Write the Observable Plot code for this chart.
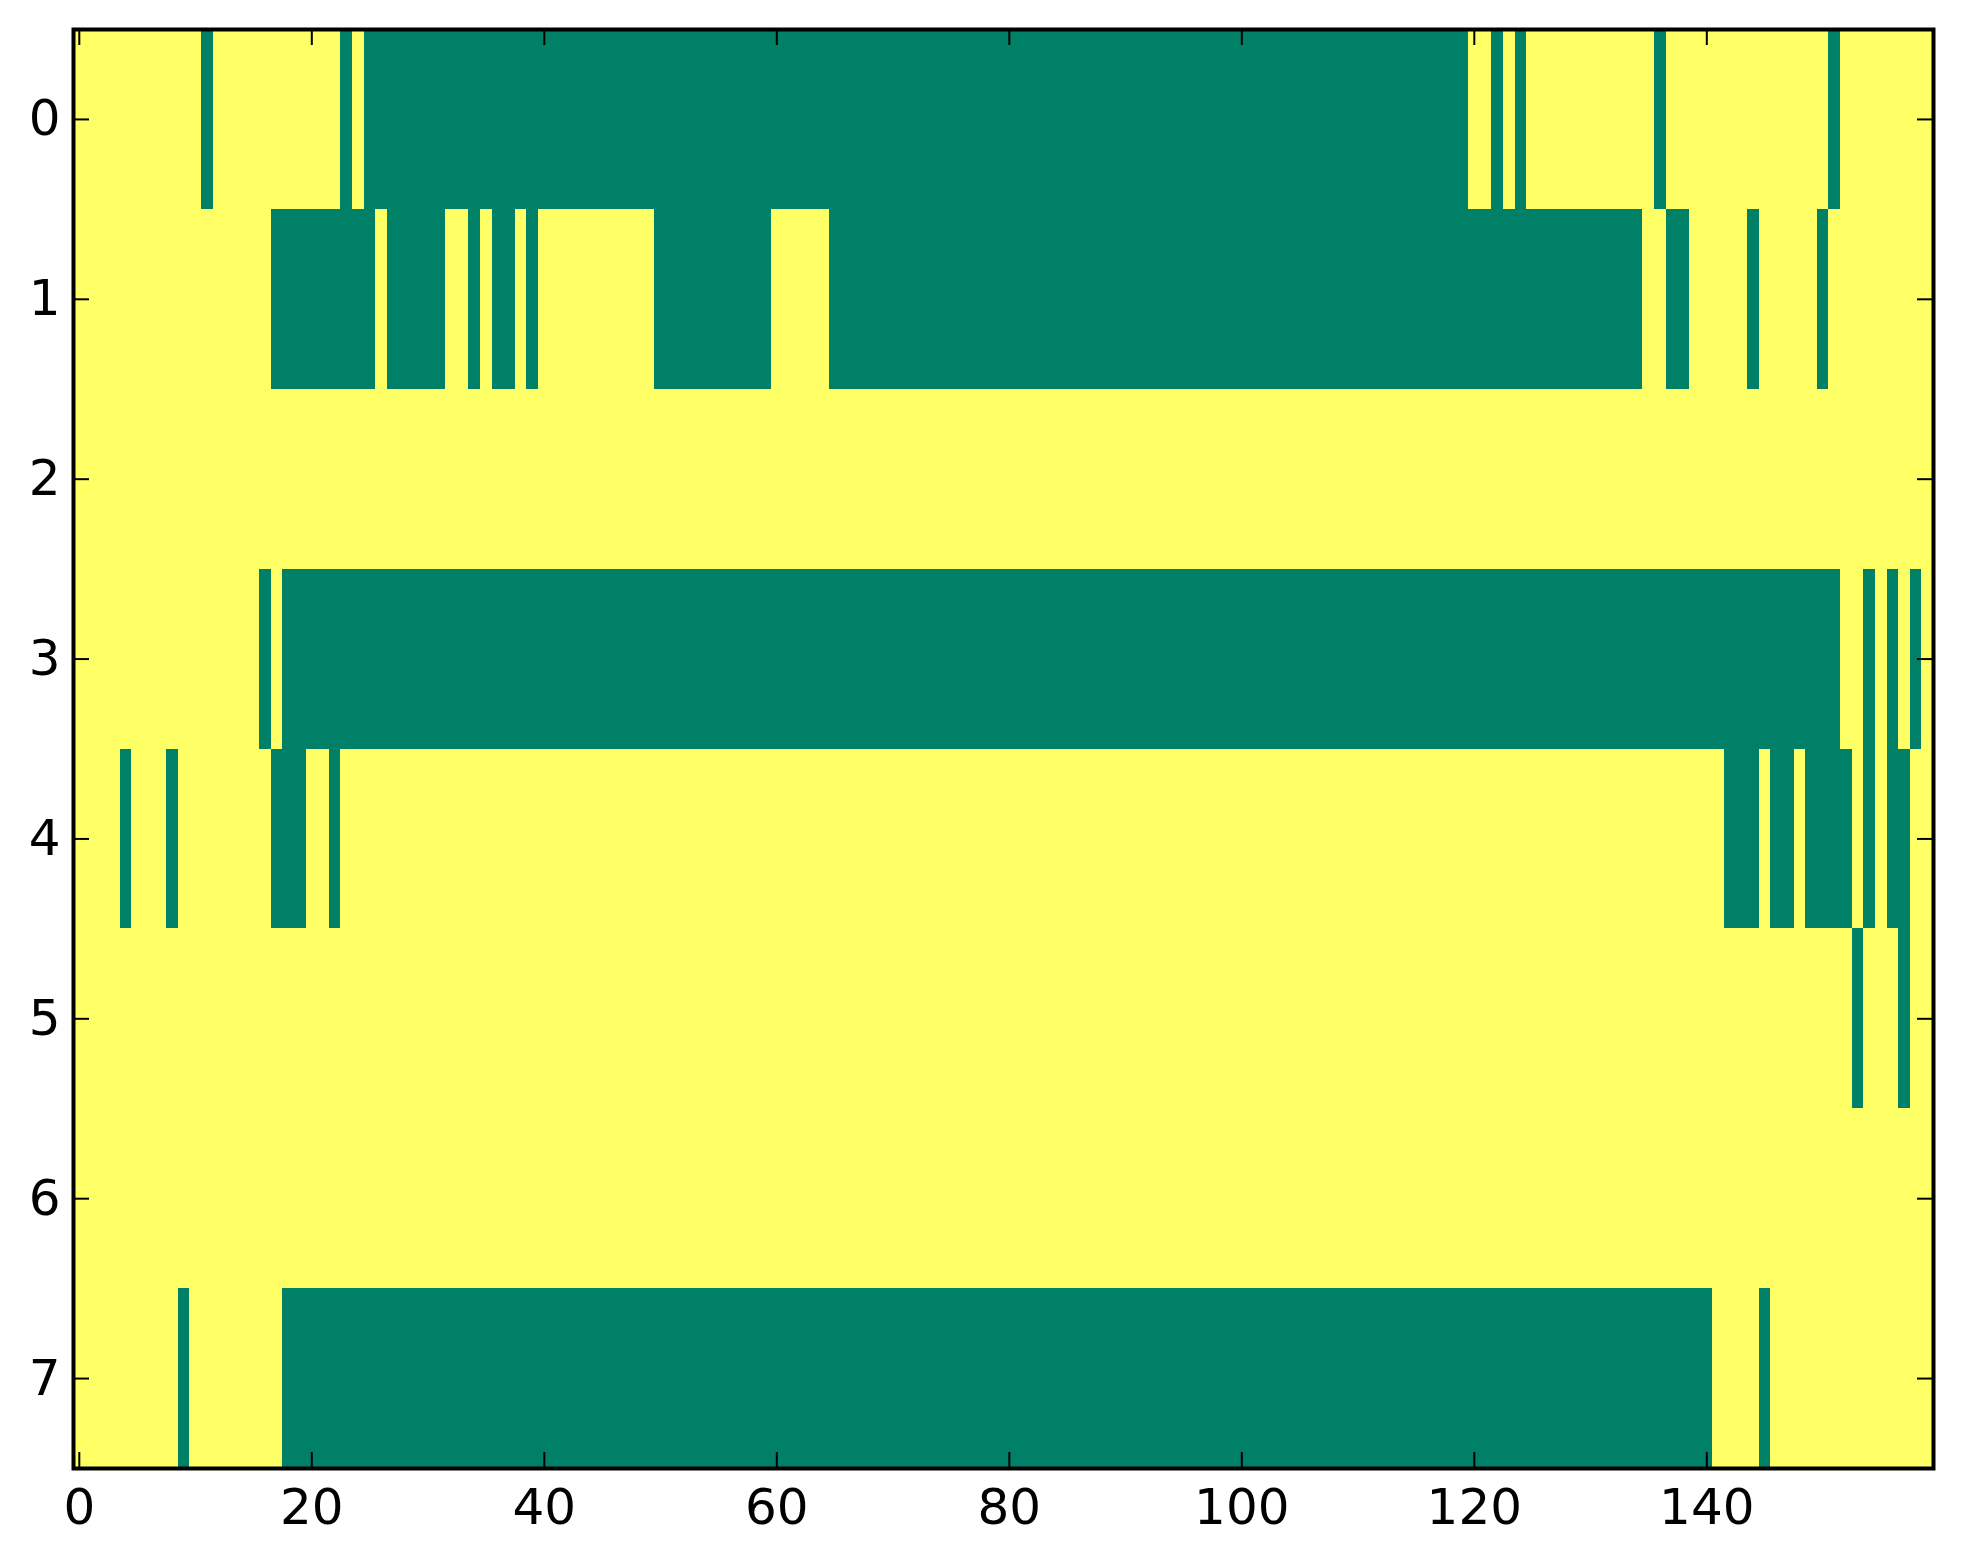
<!DOCTYPE html>
<html>
<head>
<meta charset="utf-8">
<script src="https://cdn.jsdelivr.net/npm/d3@7"></script>
<script src="https://cdn.jsdelivr.net/npm/@observablehq/plot@0.6"></script>
<style>
  html, body { margin: 0; padding: 0; background: #ffffff; }
  svg { display: block; }
</style>
</head>
<body>
<div id="chart"></div>
<script>
// ---- data: 8 rows x 160 columns binary matrix; listed runs are value 0 (green), everything else is 1 (yellow)
const nCols = 160;
const rowIds = [0, 1, 2, 3, 4, 5, 6, 7];
const row0Zeros = [[11, 11], [23, 23], [25, 119], [122, 122], [124, 124], [136, 136], [151, 151]];
const row1Zeros = [[17, 25], [27, 31], [34, 34], [36, 37], [39, 39], [50, 59], [65, 134], [137, 138], [144, 144], [150, 150]];
const row2Zeros = [];
const row3Zeros = [[16, 16], [18, 151], [154, 154], [156, 156], [158, 158]];
const row4Zeros = [[4, 4], [8, 8], [17, 19], [22, 22], [142, 144], [146, 147], [149, 152], [154, 154], [156, 157]];
const row5Zeros = [[153, 153], [157, 157]];
const row6Zeros = [];
const row7Zeros = [[9, 9], [18, 140], [145, 145]];
const xTicks = [0, 20, 40, 60, 80, 100, 120, 140];
const yTicks = [0, 1, 2, 3, 4, 5, 6, 7];
const colorDomain = [0, 1];
const colorRange = ["#008066", "#ffff66"]; // matplotlib "summer" endpoints

// ---- decode runs into a cell table
const allRuns = [row0Zeros, row1Zeros, row2Zeros, row3Zeros, row4Zeros, row5Zeros, row6Zeros, row7Zeros];
const cells = [];
rowIds.forEach((r, i) => {
  const runs = allRuns[i];
  for (let c = 0; c < nCols; c++) {
    const isZero = runs.some(([a, b]) => c >= a && c <= b);
    cells.push({row: r, col: c, value: isZero ? 0 : 1});
  }
});

// ---- layout
const W = 1963, H = 1564;
const mL = 73, mR = 30, mT = 29, mB = 96;
const innerW = W - mL - mR, innerH = H - mT - mB;
const tickLen = 16;
const font = 50;

const chart = Plot.plot({
  width: W,
  height: H,
  marginLeft: mL,
  marginRight: mR,
  marginTop: mT,
  marginBottom: mB,
  style: {fontFamily: "DejaVu Sans", fontSize: font + "px", color: "black", background: "white"},
  x: {type: "linear", domain: [-0.5, nCols - 0.5]},
  y: {type: "linear", domain: [-0.5, rowIds.length - 0.5], reverse: true},
  color: {type: "ordinal", domain: colorDomain, range: colorRange},
  marks: [
    Plot.rect(cells, {
      x1: d => d.col - 0.5, x2: d => d.col + 0.5,
      y1: d => d.row - 0.5, y2: d => d.row + 0.5,
      fill: "value", shapeRendering: "crispEdges"
    }),
    // inward tick marks on all four sides
    Plot.tickX(xTicks, {x: d => d, insetTop: innerH - tickLen, stroke: "black", strokeWidth: 2}),
    Plot.tickX(xTicks, {x: d => d, insetBottom: innerH - tickLen, stroke: "black", strokeWidth: 2}),
    Plot.tickY(yTicks, {y: d => d, insetRight: innerW - tickLen, stroke: "black", strokeWidth: 2}),
    Plot.tickY(yTicks, {y: d => d, insetLeft: innerW - tickLen, stroke: "black", strokeWidth: 2}),
    Plot.frame({stroke: "black", strokeWidth: 4}),
    Plot.axisX(xTicks, {anchor: "bottom", tickSize: 0, tickPadding: 20, fontSize: font, label: null, fill: "black", tickFormat: d => String(d)}),
    Plot.axisY(yTicks, {anchor: "left", tickSize: 0, tickPadding: 13, fontSize: font, label: null, fill: "black", tickFormat: d => String(d)})
  ]
});
document.getElementById("chart").appendChild(chart);
</script>
</body>
</html>
